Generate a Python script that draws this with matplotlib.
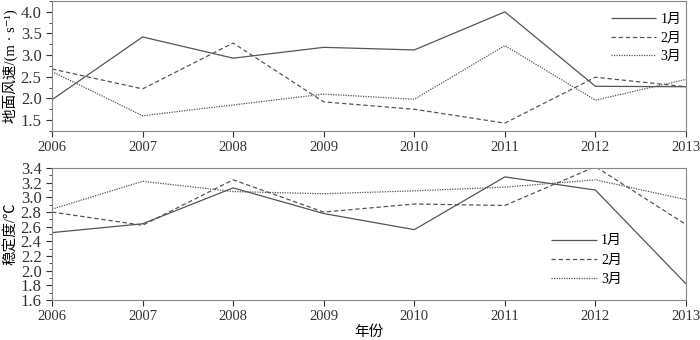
import matplotlib
matplotlib.use("Agg")
import matplotlib.pyplot as plt
from matplotlib.ticker import MultipleLocator

plt.rcParams['font.family'] = ['Liberation Serif', 'Noto Sans CJK SC', 'DejaVu Sans']

years = [2006, 2007, 2008, 2009, 2010, 2011, 2012, 2013]
months = ['1月', '2月', '3月']

# surface wind speed, m/s
wind_jan = [1.97, 3.42, 2.93, 3.18, 3.12, 4.00, 2.28, 2.27]
wind_feb = [2.68, 2.22, 3.28, 1.92, 1.75, 1.43, 2.49, 2.27]
wind_mar = [2.62, 1.60, 1.85, 2.10, 1.98, 3.22, 1.96, 2.44]

# stability, degC
stab_jan = [2.52, 2.64, 3.13, 2.78, 2.56, 3.28, 3.10, 1.82]
stab_feb = [2.80, 2.62, 3.24, 2.80, 2.91, 2.89, 3.42, 2.63]
stab_mar = [2.84, 3.22, 3.08, 3.05, 3.09, 3.14, 3.24, 2.97]

col = '#555555'
dash_styles = [(0, ()), (0, (3.5, 2.2)), (0, (1, 1))]

fig = plt.figure(figsize=(7, 3.4), dpi=100)
ax1 = fig.add_axes([0.0743, 0.615, 0.9057, 0.382])
ax2 = fig.add_axes([0.0743, 0.1176, 0.9057, 0.388])

for ax, series in [(ax1, [wind_jan, wind_feb, wind_mar]),
                   (ax2, [stab_jan, stab_feb, stab_mar])]:
    for s, ls, lab in zip(series, dash_styles, months):
        ax.plot(years, s, color=col, linestyle=ls, linewidth=0.9, label=lab)
    ax.set_xlim(2006, 2013)
    ax.set_xticks(years)
    ax.tick_params(direction='out', length=4, width=0.8, colors='#333333', labelsize=10.5)
    ax.tick_params(axis='y', labelsize=12)
    ax.tick_params(which='minor', direction='out', length=2, width=0.6, colors='#333333')
    for sp in ax.spines.values():
        sp.set_color('#888888')
        sp.set_linewidth(0.8)

ax1.set_ylim(1.25, 4.25)
ax1.yaxis.set_major_locator(MultipleLocator(0.5))
ax1.yaxis.set_minor_locator(MultipleLocator(0.25))
ax1.yaxis.set_major_formatter(plt.FormatStrFormatter('%.1f'))
ax1.set_ylabel('地面风速/(m · s⁻¹)', fontsize=10.5, labelpad=2)

ax2.set_ylim(1.6, 3.4)
ax2.yaxis.set_major_locator(MultipleLocator(0.2))
ax2.yaxis.set_minor_locator(MultipleLocator(0.1))
ax2.yaxis.set_major_formatter(plt.FormatStrFormatter('%.1f'))
ax2.set_ylabel('稳定度/℃', fontsize=10.5, labelpad=2)
ax2.set_xlabel('年份', fontsize=10.5, labelpad=1)

ax1.legend(loc='upper left', bbox_to_anchor=(0.87, 0.96), frameon=False,
           fontsize=10, handlelength=3.3, handletextpad=0.3, labelspacing=0.4,
           borderpad=0)
ax2.legend(loc='upper left', bbox_to_anchor=(0.776, 0.55), frameon=False,
           fontsize=10, handlelength=3.3, handletextpad=0.3, labelspacing=0.45,
           borderpad=0)

fig.savefig('out.png', dpi=100)
